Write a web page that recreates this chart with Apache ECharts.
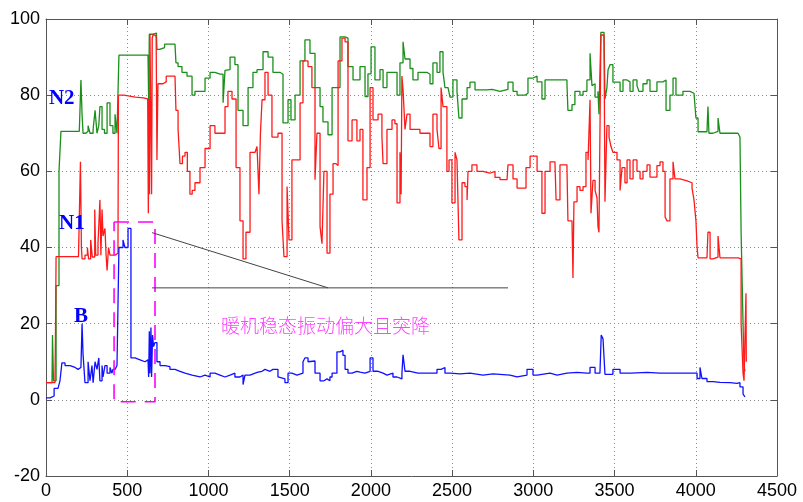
<!DOCTYPE html>
<html>
<head>
<meta charset="utf-8">
<script src="https://cdn.jsdelivr.net/npm/echarts@6/dist/echarts.min.js"></script>
<style>
  html, body { margin: 0; padding: 0; background: #fff; }
  #chart { width: 803px; height: 502px; }
</style>
</head>
<body>
<div id="chart"></div>
<script>
// Axis ranges (time on x, percentage on y)
const xRange = [0, 4500, 500];
const yRange = [-20, 100, 20];

// N2 trace [time, value]
const n2 = [
  [0,4.5],[37,4.5],[40,17],[43,17.5],[46,5],[55,5],[62,30],[80,60],[92,70.5],[150,70.5],[205,70.5],[215,84],[222,75],[228,70],
  [245,70.5],[259,72],[271,70],[290,71],[302,76],[314,70],[325,72],[332,77],[345,71],[360,70],[376,78],[394,72],[412,70],
  [425,75],[437,70],[446,70],[449,90.5],[600,90.5],[628,90.3],[632,78.5],[636,96],[660,96.3],[680,95.5],[683,92],[700,92.5],
  [730,93.4],[794,93],[800,88.5],[813,87.5],[837,86],[868,85],[899,80],[917,81],[948,81],[979,84.5],[1010,86],[1040,85.5],
  [1071,85.5],[1090,78],[1102,86.5],[1114,86.7],[1133,90],[1163,88],[1182,76],[1213,72],[1244,82],[1274,86],[1299,86.7],
  [1336,91.4],[1367,90],[1397,86],[1440,85.5],[1459,72.7],[1490,78.8],[1508,73.5],[1533,80],[1564,89],[1594,94.5],[1625,91],
  [1656,82],[1687,77],[1705,73],[1736,69.6],[1761,82],[1791,82],[1810,95.3],[1841,95],[1859,87.5],[1890,84],[1933,87.5],
  [1964,79.6],[1982,85.6],[2001,92.7],[2025,84],[2056,86.7],[2075,82],[2099,86],[2136,86],[2161,80],[2179,88.5],[2198,94],
  [2210,89.5],[2241,87],[2259,84],[2290,86],[2345,85.5],[2364,83],[2382,88.5],[2407,86],[2425,91.4],[2444,86],[2456,82],
  [2475,82.5],[2487,79.5],[2505,84],[2530,81],[2542,74],[2561,79],[2592,82],[2610,83.4],[2641,81.4],[2715,81.5],[2746,81],
  [2795,81.5],[2844,83.4],[2875,81],[2900,80],[2949,80.5],[2967,84.5],[2998,85],[3023,83.5],[3053,79],[3072,84],[3103,84],
  [3146,84],[3183,84],[3207,83],[3213,76],[3238,77.5],[3256,81],[3287,80],[3306,81],[3330,84],[3349,91],[3361,82.5],
  [3367,83],[3380,79.5],[3398,81],[3404,75],[3416,96.5],[3435,96.7],[3441,79],[3453,82],[3460,86.7],[3472,88],[3490,83.4],
  [3515,83.4],[3534,81],[3552,84],[3577,83.5],[3595,81],[3614,84],[3638,82.5],[3650,81],[3675,83],[3700,84],[3718,81],
  [3761,83.5],[3798,84],[3817,76],[3841,80],[3860,84.5],[3878,80],[3921,81],[3946,81],[3964,80.5],[3989,80],[4001,74],
  [4014,70.4],[4044,70.4],[4069,70.5],[4075,77],[4081,70],[4106,70.5],[4137,74],[4149,70],[4211,70],[4260,69.5],[4272,69],
  [4279,44],[4291,20],[4297,8.7],[4303,7.5]
];

// N1 trace [time, value]
const n1 = [
  [0,4.5],[55,4.5],[58,15],[62,37.6],[120,37.6],[200,37.8],[209,38],[212,62.5],[218,40],[222,37],[240,38],[255,40],[262,37],
  [275,42],[285,37.5],[300,50],[306,38],[320,41],[332,52.5],[338,38],[345,50],[351,43],[363,45],[370,38],[376,34],[385,40],
  [394,38],[410,38],[425,37.5],[437,38.5],[443,38],[446,80],[480,79.5],[550,79.3],[600,79],[626,78.8],[630,49],[634,79],
  [637,54],[640,96],[646,95.8],[650,54],[654,95],[660,96],[670,95.5],[678,96],[683,63],[689,83],[720,83.5],[740,85],
  [794,84.5],[800,76],[813,71],[825,62],[840,64],[856,65],[870,60],[886,54],[900,55],[917,57],[948,61],[979,66],[1010,72],
  [1040,70],[1071,70],[1102,77],[1120,81],[1145,79],[1170,61],[1194,47],[1213,37],[1231,44],[1256,65],[1287,65],
  [1299,66.5],[1311,54],[1320,70],[1330,78.8],[1348,86],[1367,80],[1391,69],[1428,70],[1453,47],[1465,37.6],[1484,56],
  [1496,42],[1514,63],[1545,63],[1564,78],[1582,89],[1613,87.5],[1637,82],[1656,57.8],[1668,70],[1687,45.5],[1699,41],
  [1711,60],[1730,38.5],[1748,54],[1767,62],[1785,61.5],[1798,89],[1822,95],[1841,94],[1859,68],[1884,73.5],[1914,68],
  [1933,71],[1951,52.5],[1976,61],[1995,82],[2013,73.5],[2044,75],[2068,69],[2075,62],[2099,71],[2130,73.5],[2148,72.5],
  [2161,51.7],[2179,65],[2186,54],[2191,85],[2198,81.4],[2210,71],[2222,75],[2241,71],[2272,71],[2302,70],[2345,70],
  [2364,66.5],[2382,75],[2407,71],[2419,66],[2432,82],[2444,77],[2468,60],[2481,63],[2499,51.7],[2518,65],[2530,63],
  [2542,42],[2561,57],[2579,56],[2592,52.5],[2598,60],[2622,61.7],[2653,60],[2690,59.5],[2733,60],[2764,58.4],[2795,57.8],
  [2838,57.8],[2844,61.7],[2875,58],[2900,55.6],[2936,55.6],[2955,61],[2980,64],[2998,64],[3023,60],[3053,49],[3072,60],
  [3103,62.5],[3133,62],[3140,52.5],[3164,61.7],[3207,61],[3213,47],[3238,47],[3244,32],[3250,52],[3269,56],[3287,55],
  [3306,56],[3324,65],[3337,63],[3349,78.8],[3355,49],[3367,57.6],[3380,55],[3392,53],[3398,45.5],[3404,44],[3416,95.8],
  [3435,95.8],[3441,52],[3453,72],[3466,69],[3478,66.5],[3490,65],[3515,63],[3534,55],[3546,61],[3564,57],[3577,63],
  [3595,58],[3614,63],[3638,60],[3657,58],[3675,60],[3700,61.7],[3718,58.5],[3761,61.5],[3780,62.5],[3798,60],[3811,48],
  [3823,47],[3841,58],[3860,62.5],[3872,58],[3903,57.5],[3946,57],[3977,55.6],[3989,52.5],[4001,47],[4008,40],[4014,37.3],
  [4069,37.5],[4075,44],[4088,37],[4106,37.5],[4137,43],[4149,37.3],[4211,37.3],[4260,37],[4266,37],[4279,20],[4291,7],
  [4297,5],[4303,4.5],[4309,28],[4311,10]
];

// B (vibration) trace [time, value]
const vibB = [
  [0,0.5],[25,0.5],[37,1],[50,3],[74,3.5],[86,5],[98,9.7],[117,9],[148,8.5],[179,8],[197,8.5],[215,9],[222,20],[228,12],
  [240,4.5],[259,10],[271,5],[283,9],[290,4.5],[302,10],[314,8],[325,11],[332,5],[345,9],[351,6],[363,9],[376,7],[394,8.5],
  [406,7],[412,8],[425,7.5],[437,9],[443,8.5],[449,40],[474,42],[486,40],[505,45],[517,45],[523,11],[548,10.5],[579,10],
  [609,10.5],[628,10],[632,6],[636,18],[640,7],[646,19],[650,6],[656,17],[662,14],[670,15],[683,10],[702,9],[733,8.7],
  [763,8],[794,7.5],[825,7],[856,6.5],[899,6],[948,6.5],[979,6],[1010,7],[1040,6.5],[1071,6],[1102,6.5],[1133,7],[1163,6],
  [1194,6.5],[1213,4],[1225,6.5],[1256,7],[1287,7.3],[1305,7.5],[1330,8],[1348,7.5],[1379,8],[1397,8],[1428,6],[1440,5.5],
  [1471,4.5],[1490,7],[1514,6.5],[1545,7],[1582,10],[1594,11],[1613,10],[1625,10.2],[1656,7],[1687,5],[1711,5.5],[1730,5],
  [1748,6],[1761,7],[1791,12.6],[1810,13],[1828,11.7],[1841,8],[1859,7],[1884,7.5],[1914,7.3],[1933,7],[1964,7.5],[1995,11],
  [2013,7.5],[2044,7],[2075,6.5],[2099,7],[2136,6],[2161,5.5],[2191,7],[2198,11.8],[2210,7.5],[2241,7],[2290,7],[2345,7],
  [2407,8],[2432,8.5],[2456,7],[2487,6.8],[2549,7],[2610,6.5],[2690,6.8],[2752,6.5],[2856,6],[2900,6.5],[2961,8],[2998,6.5],
  [3023,7],[3103,6.5],[3146,7],[3207,7.2],[3269,7],[3330,7],[3349,8.5],[3380,7],[3410,6.5],[3418,17],[3429,16],[3441,6.7],
  [3490,8],[3534,7],[3600,7.2],[3700,7],[3780,7],[3860,7],[3946,7],[3989,7],[4008,5.6],[4026,8.5],[4038,5.6],[4069,4.8],
  [4106,4.6],[4149,4.5],[4211,4.3],[4254,4.5],[4272,3.4],[4291,1.5],[4303,0.8]
];

// Warm-up window box and callout
const boxX = [419, 671];
const boxY = [-0.5, 46.7];
const calloutFrom = [653, 43.9];
const calloutTo = [1736, 29.4];
const calloutBaseEnd = 2844;
const noteText = '暖机稳态振动偏大且突降';
const notePos = [1077, 19.4];

// Series name tags placed beside each curve
const tags = [
  { text: 'N2', at: [18, 79.2] },
  { text: 'N1', at: [80, 46.2] },
  { text: 'B', at: [172, 21.8] }
];

const boxPath = [
  [boxX[0], boxY[1]], [boxX[1], boxY[1]], [boxX[1], boxY[0]], [boxX[0], boxY[0]], [boxX[0], boxY[1]]
];

const chart = echarts.init(document.getElementById('chart'), null, { renderer: 'canvas' });

const axisLineStyle = { color: '#555', width: 1 };
const gridStyle = { color: '#8a8a8a', width: 1, type: [1, 3] };
const labelFont = { color: '#000', fontSize: 18, fontFamily: 'Liberation Sans, Arial, sans-serif' };

function valueAxis(range, pos, main) {
  return {
    type: 'value', min: range[0], max: range[1], interval: range[2], position: pos,
    axisLine: { show: true, onZero: false, lineStyle: axisLineStyle },
    axisTick: { show: true, inside: true, length: 6, lineStyle: axisLineStyle },
    axisLabel: main
      ? Object.assign({ show: true, margin: 6, formatter: v => String(v) }, labelFont)
      : { show: false },
    splitLine: main ? { show: true, lineStyle: gridStyle } : { show: false }
  };
}

function trace(name, data, color) {
  return {
    name, type: 'line', data, step: 'end', showSymbol: false, symbol: 'none', silent: true,
    lineStyle: { color, width: 1.3 }, z: 3
  };
}

chart.setOption({
  animation: false,
  backgroundColor: '#fff',
  grid: { left: 46, right: 26, top: 19, bottom: 26, containLabel: false },
  xAxis: [valueAxis(xRange, 'bottom', true), valueAxis(xRange, 'top', false)],
  yAxis: [valueAxis(yRange, 'left', true), valueAxis(yRange, 'right', false)],
  series: [
    trace('N2', n2, '#1a8f1a'),
    trace('N1', n1, '#ff1a1a'),
    trace('B', vibB, '#1010ff'),
    {
      type: 'line', data: boxPath, showSymbol: false, symbol: 'none', silent: true, z: 4,
      lineStyle: { color: '#ff00ff', width: 1.6, type: [15, 9] }
    },
    {
      type: 'line', data: [calloutFrom, calloutTo], showSymbol: false, symbol: 'none', silent: true, z: 4,
      lineStyle: { color: '#444', width: 1 }
    },
    {
      type: 'line', data: [[calloutFrom[0], calloutTo[1]], [calloutBaseEnd, calloutTo[1]]], showSymbol: false,
      symbol: 'none', silent: true, z: 4, lineStyle: { color: '#444', width: 1 }
    }
  ]
});

function place(pt) {
  return chart.convertToPixel({ xAxisIndex: 0, yAxisIndex: 0 }, pt);
}

const graphics = tags.map(t => {
  const p = place(t.at);
  return {
    type: 'text', x: p[0], y: p[1], z: 10,
    style: {
      text: t.text, fill: '#0000ff', font: 'bold 21px "Liberation Serif", "Times New Roman", serif',
      textAlign: 'left', textVerticalAlign: 'middle'
    }
  };
});
const np = place(notePos);
graphics.push({
  type: 'text', x: np[0], y: np[1], z: 10,
  style: {
    text: noteText, fill: '#ff44ff', font: '300 19px "Noto Sans CJK SC", sans-serif',
    textAlign: 'left', textVerticalAlign: 'middle'
  }
});
chart.setOption({ graphic: graphics });
</script>
</body>
</html>
